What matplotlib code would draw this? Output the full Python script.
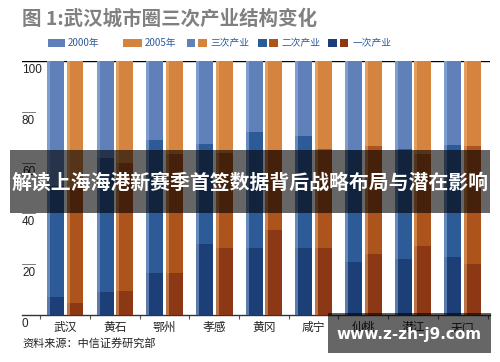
import matplotlib
matplotlib.use("Agg")
import matplotlib.pyplot as plt
from matplotlib.patches import Rectangle
import matplotlib.transforms as mtransforms
import numpy as np

plt.rcParams['font.family'] = ['Noto Sans CJK SC', 'DejaVu Sans']

cities = ["武汉", "黄石", "鄂州", "孝感", "黄冈", "咸宁", "仙桃", "潜江", "天门"]
prim_2000 = [7, 9, 16.5, 28, 26.5, 26.5, 21, 22, 23]
sec_2000 = [44, 53, 52.5, 39.5, 45.5, 44, 44, 43.5, 44]
ter_2000 = [49, 38, 31, 32.5, 28, 29.5, 35, 34.5, 33]
prim_2005 = [4.7, 9.5, 16.5, 26.5, 33.5, 26.5, 24, 27, 20]
sec_2005 = [45.3, 50.5, 47, 37.5, 31.5, 39, 42.5, 36.5, 46.5]
ter_2005 = [50, 40, 36.5, 36, 35, 34.5, 33.5, 36.5, 33.5]
yticks = [0, 20, 40, 60, 80, 100]
title = "图 1:武汉城市圈三次产业结构变化"
legend_labels = ["2000年", "2005年", "三次产业", "二次产业", "一次产业"]
source = "资料来源：中信证券研究部"
overlay = "解读上海海港新赛季首签数据背后战略布局与潜在影响"
watermark = "www.z-zh-j9.com"

blue = ["#1c3f77", "#2d5b98", "#5f80b9"]     # primary, secondary, tertiary
orange = ["#8c3814", "#ad531c", "#d4843f"]

fig = plt.figure(figsize=(5.0, 3.62), dpi=100)
ax = fig.add_axes([0.044, 0.13, 0.936, 0.701])

x = np.arange(len(cities))
w = 0.34
off = 0.197

def stack(xpos, parts, cols, hl):
    bottom = np.zeros(len(cities))
    for p, c in zip(parts, cols):
        ax.bar(xpos, p, w, bottom=bottom, color=c, linewidth=0, zorder=3)
        bottom = bottom + np.array(p)
    # left highlight stripe
    ax.bar(xpos - w / 2 + 0.03, bottom, 0.06, color=hl, alpha=0.45, linewidth=0, zorder=4)

stack(x - off, [prim_2000, sec_2000, ter_2000], blue, "#a8c4ee")
stack(x + off, [prim_2005, sec_2005, ter_2005], orange, "#f6be84")

ax.set_xlim(-0.87, len(cities) - 1 + 0.55)
ax.set_ylim(0, 100)
for s in ["left", "right", "top"]:
    ax.spines[s].set_visible(False)
ax.spines["bottom"].set_color("#333333")
ax.spines["bottom"].set_linewidth(1.0)
ax.axhline(100, color="black", lw=1.0, zorder=2)

ax.set_yticks([])
ax.set_xticks(np.arange(-0.5, len(cities) - 0.4, 1.0))
ax.set_xticklabels([])
ax.tick_params(axis="x", direction="out", length=3, width=0.8, color="#555555")

trans = mtransforms.blended_transform_factory(ax.transAxes, ax.transData)
for v in yticks:
    if v not in (0, 100):
        ax.plot([0, 0.028], [v, v], transform=trans, color="#666666", lw=0.6, zorder=2)
    ax.text(0.0, v - 1.2, str(v), transform=trans, ha="left", va="top",
            fontsize=8.5, family="Liberation Sans", color="#222222")

for i, c in enumerate(cities):
    ax.text(x[i], -2.5, c, ha="center", va="top", fontsize=8.5, color="#222222")

fig.text(0.044, 0.948, title, fontsize=14, fontweight="bold", color="#808080",
         va="center", ha="left")

# legend
ly = 0.881
lh = 0.022
def fpatch(x0, x1, col):
    fig.add_artist(Rectangle((x0 / 500, ly - lh / 2), (x1 - x0) / 500, lh,
                             transform=fig.transFigure, color=col, lw=0))
fpatch(48, 65, blue[2]); fig.text(68 / 500, ly, legend_labels[0], fontsize=7, color="#2d5b98", va="center")
fpatch(123, 142, orange[2]); fig.text(145 / 500, ly, legend_labels[1], fontsize=7, color="#2d5b98", va="center")
fpatch(187, 195, blue[2]); fpatch(198, 207, orange[2]); fig.text(210 / 500, ly, legend_labels[2], fontsize=7, color="#2d5b98", va="center")
fpatch(258, 267, blue[1]); fpatch(269, 278, orange[1]); fig.text(282 / 500, ly, legend_labels[3], fontsize=7, color="#2d5b98", va="center")
fpatch(328, 337, blue[0]); fpatch(340, 348, orange[0]); fig.text(353 / 500, ly, legend_labels[4], fontsize=7, color="#2d5b98", va="center")

fig.text(0.044, 1 - 343 / 362, source, fontsize=8, color="#222222", va="center", ha="left")

# overlay band
fig.add_artist(Rectangle((10 / 500, 1 - 213 / 362), 480 / 500, 63 / 362,
                         transform=fig.transFigure, color="black", alpha=0.6, lw=0, zorder=10))
fig.text(0.5, 1 - 182 / 362, overlay, fontsize=14.3, fontweight="bold", color="white",
         ha="center", va="center", zorder=11)

# watermark
fig.add_artist(Rectangle((328 / 500, 1 - 353 / 362), 163 / 500, 40 / 362,
                         transform=fig.transFigure, color="black", alpha=0.6, lw=0, zorder=10))
fig.text(409 / 500, 1 - 334 / 362, watermark, fontsize=11, fontweight="bold", color="white",
         ha="center", va="center", family="DejaVu Sans", zorder=11)

fig.savefig("out.png", dpi=100)
